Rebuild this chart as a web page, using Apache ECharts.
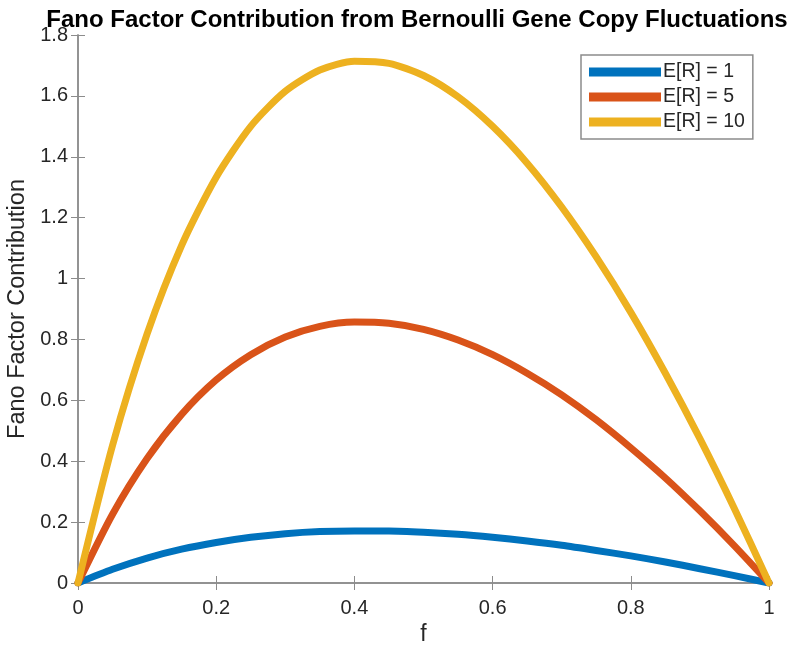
<!DOCTYPE html>
<html>
<head>
<meta charset="utf-8">
<script src="https://cdn.jsdelivr.net/npm/echarts@6/dist/echarts.min.js"></script>
<style>
  html, body { margin: 0; padding: 0; background: #fff; }
  #chart { width: 791px; height: 648px; }
</style>
</head>
<body>
<div id="chart"></div>
<script>
const F_VALUES = [0, 0.05, 0.1, 0.15, 0.2, 0.25, 0.3, 0.35, 0.4, 0.45, 0.5,
  0.55, 0.6, 0.65, 0.7, 0.75, 0.8, 0.85, 0.9, 0.95, 1];

const FANO_R1 = [0, 0.045, 0.082, 0.111, 0.133, 0.150, 0.162, 0.169, 0.171, 0.171, 0.167,
  0.160, 0.150, 0.138, 0.124, 0.107, 0.089, 0.069, 0.047, 0.024, 0];
const FANO_R5 = [0, 0.226, 0.409, 0.554, 0.667, 0.750, 0.808, 0.843, 0.857, 0.853, 0.833,
  0.798, 0.750, 0.689, 0.618, 0.536, 0.444, 0.345, 0.237, 0.122, 0];
const FANO_R10 = [0, 0.452, 0.818, 1.109, 1.333, 1.500, 1.615, 1.685, 1.714, 1.707, 1.667,
  1.597, 1.500, 1.379, 1.235, 1.071, 0.889, 0.689, 0.474, 0.244, 0];

const X_TICKS = [0, 0.2, 0.4, 0.6, 0.8, 1];
const Y_TICKS = [0, 0.2, 0.4, 0.6, 0.8, 1, 1.2, 1.4, 1.6, 1.8];

const SERIES = [
  { name: "E[R] = 1", values: FANO_R1, color: "#0072BD" },
  { name: "E[R] = 5", values: FANO_R5, color: "#D95319" },
  { name: "E[R] = 10", values: FANO_R10, color: "#EDB120" }
];

const FONT = "'Liberation Sans', Arial, Helvetica, sans-serif";
const AXIS_GRAY = "#8c8c8c";
const TEXT_COLOR = "#262626";

function fmt(v) {
  return String(Math.round(v * 10) / 10);
}

const chart = echarts.init(document.getElementById("chart"));

const tickAxis = {
  axisLine: { show: true, lineStyle: { color: AXIS_GRAY, width: 1.5 } },
  axisTick: { show: true, inside: true, length: 7, lineStyle: { color: AXIS_GRAY, width: 1 } },
  splitLine: { show: false }
};

chart.setOption({
  animation: false,
  title: {
    text: "Fano Factor Contribution from Bernoulli Gene Copy Fluctuations",
    left: 412,
    top: 3,
    textAlign: "center",
    textStyle: { fontFamily: FONT, fontSize: 24, fontWeight: "bold", color: "#000" }
  },
  grid: { left: 78, right: 22, top: 35, bottom: 65, containLabel: false, outerBoundsMode: "none" },
  legend: {
    left: 581,
    top: 55,
    orient: "vertical",
    itemWidth: 72,
    itemHeight: 9,
    itemGap: 5,
    padding: [7, 8, 7, 8],
    borderColor: "#8c8c8c",
    borderWidth: 1.5,
    backgroundColor: "#fff",
    icon: "rect",
    textStyle: { fontFamily: FONT, fontSize: 19.5, color: TEXT_COLOR, padding: [0, 0, 0, -3] },
    data: SERIES.map((s) => s.name)
  },
  xAxis: [
    Object.assign({}, tickAxis, {
      type: "value",
      min: 0,
      max: 1,
      interval: 0.2,
      name: "f",
      nameLocation: "middle",
      nameGap: 40,
      nameTextStyle: { fontFamily: FONT, fontSize: 23, color: TEXT_COLOR },
      axisLabel: {
        fontFamily: FONT, fontSize: 20, color: TEXT_COLOR, margin: 15,
        formatter: (v) => (X_TICKS.some((t) => Math.abs(t - v) < 1e-9) ? fmt(v) : "")
      }
    }),
    Object.assign({}, tickAxis, {
      type: "value", position: "top", min: 0, max: 1, interval: 0.2,
      axisLabel: { show: false }
    })
  ],
  yAxis: [
    Object.assign({}, tickAxis, {
      type: "value",
      min: 0,
      max: 1.8,
      interval: 0.2,
      name: "Fano Factor Contribution",
      nameLocation: "middle",
      nameGap: 45,
      nameTextStyle: { fontFamily: FONT, fontSize: 23.5, color: TEXT_COLOR },
      axisLabel: {
        fontFamily: FONT, fontSize: 20, color: TEXT_COLOR, margin: 10,
        formatter: (v) => (Y_TICKS.some((t) => Math.abs(t - v) < 1e-9) ? fmt(v) : "")
      }
    }),
    Object.assign({}, tickAxis, {
      type: "value", position: "right", min: 0, max: 1.8, interval: 0.2,
      axisLabel: { show: false }
    })
  ],
  series: SERIES.map((s) => ({
    type: "line",
    name: s.name,
    data: F_VALUES.map((f, i) => [f, s.values[i]]),
    showSymbol: false,
    symbol: "none",
    smooth: 0.25,
    color: s.color,
    lineStyle: { width: 7, color: s.color, cap: "round", join: "round" },
    emphasis: { disabled: true },
    silent: true
  }))
});
</script>
</body>
</html>
